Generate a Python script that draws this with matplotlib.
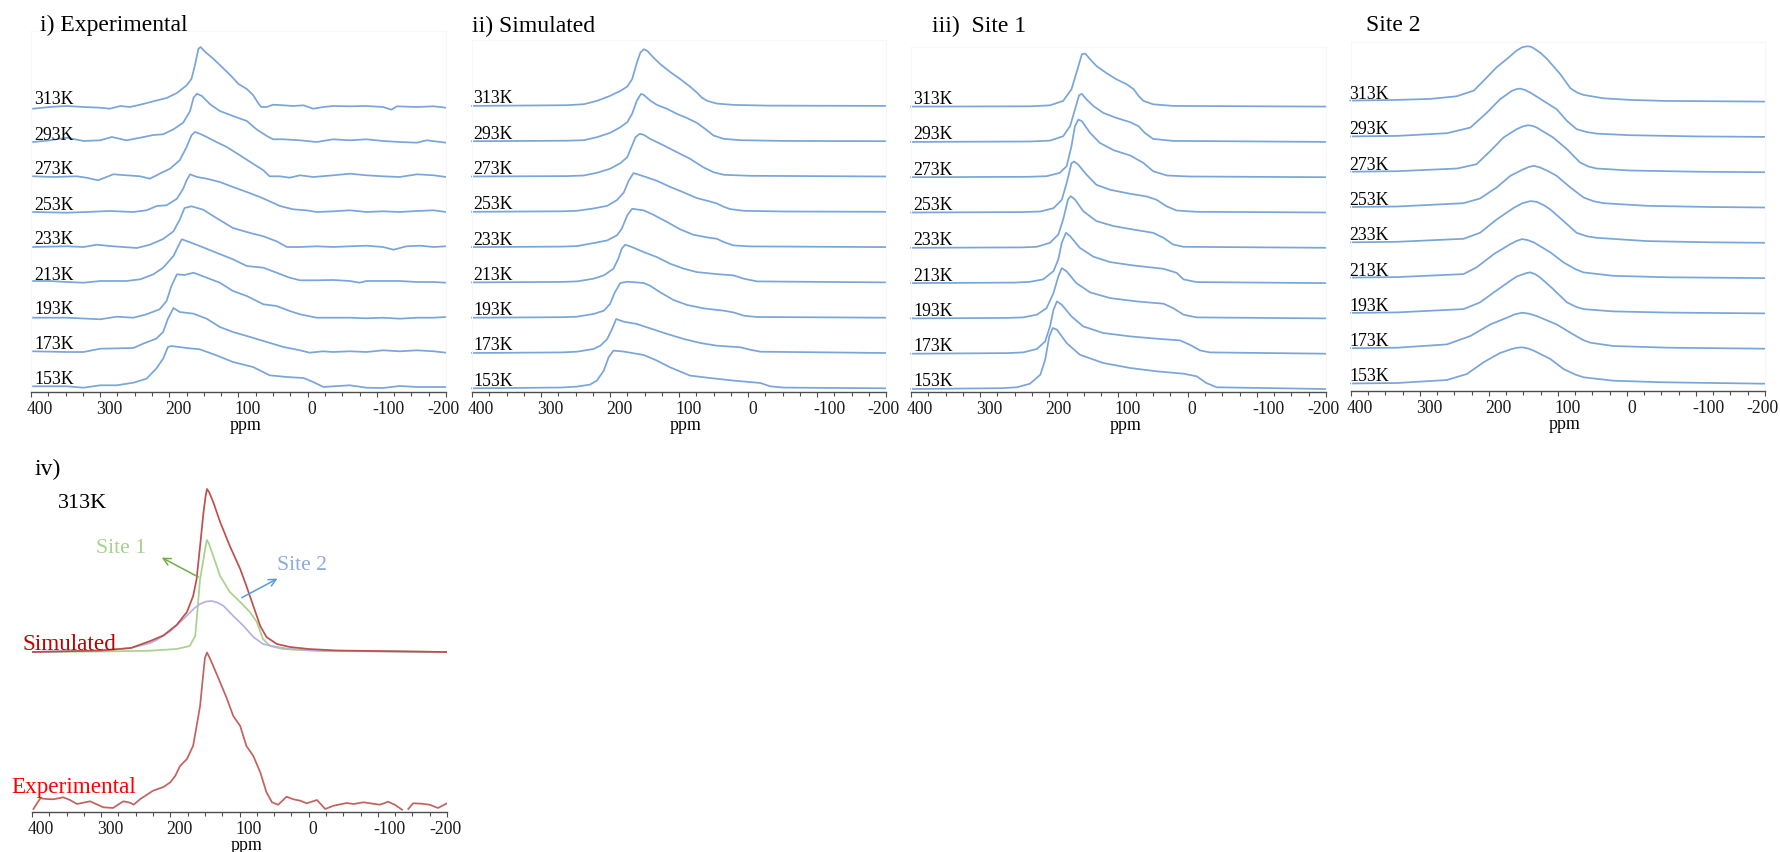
import numpy as np
import matplotlib
matplotlib.use('Agg')
import matplotlib.pyplot as plt
from matplotlib.ticker import FixedLocator, FixedFormatter, MultipleLocator
from matplotlib.transforms import ScaledTranslation

plt.rcParams['font.family'] = ['Liberation Serif', 'DejaVu Serif']

temps = ['153K', '173K', '193K', '213K', '233K', '253K', '273K', '293K', '313K']
tick_ppm = [400, 300, 200, 100, 0, -100, -200]
tick_text = ['400', '300', '200', '100', '0', '-100', '-200']

# i) experimental spectra, (ppm, intensity) pairs
exp_153 = [(397, 0.7), (348, 0.7), (324, -0.7), (300, 1.7), (276, 1.7), (252, 4.3), (233, 8.3), (219, 18.3),
           (209, 28.3), (202, 40), (197, 41), (175, 39), (156, 37.7), (132, 31.7), (108, 25), (79, 20), (55, 11.7),
           (30, 10), (6, 9), (-8, 5), (-23, 0), (-37, 0.7), (-61, 1.7), (-85, -0.7), (-109, -1), (-133, 1),
           (-158, 0), (-182, 0), (-200, 0)]
exp_173 = [(397, 0.7), (348, 0), (324, 0), (300, 3.3), (252, 4), (238, 8.3), (219, 13.3), (209, 20), (202, 33.3),
           (194, 44), (185, 40), (165, 38.3), (146, 33.3), (127, 25), (108, 20), (88, 16), (59, 10), (35, 5),
           (11, 1.7), (-3, -0.7), (-22, 0.7), (-37, 0), (-61, 0.7), (-85, 0), (-109, 1.7), (-133, 0.7),
           (-158, 1.7), (-182, 0.7), (-200, -0.7)]
exp_193 = [(397, -0.7), (348, -0.7), (300, -2.3), (276, 0.3), (252, -0.7), (233, 2.7), (214, 7.7), (204, 16),
           (197, 31), (189, 42.7), (178, 42), (165, 44.3), (146, 39.3), (127, 34.3), (108, 26), (88, 21), (64, 12.7),
           (45, 11), (26, 6), (11, 2.7), (-13, -0.7), (-37, -0.7), (-61, -0.7), (-85, -1.3), (-109, -0.7),
           (-133, -1.7), (-158, -0.7), (-182, -0.7), (-200, 0)]
exp_213 = [(397, 1), (373, 1), (348, 0), (324, -0.7), (300, 1), (262, 1), (242, 2.7), (223, 7.7), (209, 14.3),
           (194, 26), (187, 36), (182, 42.7), (175, 41), (156, 36), (132, 29.3), (108, 22.7), (88, 16), (64, 14.3),
           (45, 9.3), (26, 4.3), (11, 1.7), (-13, 1.7), (-37, 2), (-61, 1), (-75, -0.7), (-85, 1), (-109, 1),
           (-133, 1), (-158, 0), (-182, 0), (-200, -0.7)]
exp_233 = [(397, 0), (348, 0.7), (324, 0), (305, 2.3), (281, 0.7), (247, -1), (228, 2.3), (209, 8), (194, 15.7),
           (185, 27.3), (178, 39), (168, 40.7), (151, 37.3), (132, 29), (108, 19), (83, 14), (64, 10.7), (45, 5.7),
           (30, 0), (11, 0), (-13, 0.7), (-37, 0), (-61, 0.7), (-85, 1.3), (-109, 0), (-124, -2.7), (-143, 0.7),
           (-162, 1.3), (-182, 0), (-200, 0.7)]
exp_253 = [(397, 0), (348, -0.7), (320, 0), (286, 1), (252, 0), (233, 1.7), (218, 6), (204, 6.7), (189, 13.3),
           (180, 23.3), (175, 31.7), (170, 37.7), (160, 35), (146, 33.3), (127, 30), (108, 25), (88, 20), (69, 15),
           (55, 10.7), (40, 6), (21, 2.7), (2, 1.7), (-13, 0), (-37, 0.7), (-61, 1.7), (-85, 0), (-109, 0.7),
           (-133, 0), (-158, 1), (-182, 1.7), (-200, 0)]
exp_273 = [(397, 0.7), (368, 0), (334, 0.7), (320, -0.7), (303, -3.3), (281, 2.7), (262, 1.7), (242, 0.7),
           (228, -1.7), (214, 3.3), (199, 8.3), (185, 16.7), (175, 30), (168, 41.7), (163, 45), (156, 43.3),
           (146, 40), (132, 35), (117, 30), (98, 21.7), (79, 13.3), (64, 6.7), (55, 0.7), (40, 0.7), (26, -0.7),
           (11, 1.7), (-8, 0), (-37, 1.7), (-61, 3.3), (-85, 1.7), (-109, 0.7), (-133, 0), (-158, 2.7),
           (-182, 1.7), (-200, 0)]
exp_293 = [(397, 0), (373, 1.7), (348, 4.3), (324, 1), (300, 1.7), (283, 5), (262, 1.7), (242, 4.3), (223, 7),
           (209, 7.7), (194, 12.7), (180, 19.3), (170, 31), (165, 44.3), (160, 48.3), (153, 46), (141, 37.7),
           (127, 31), (108, 26), (88, 21), (74, 12.7), (59, 6), (50, 2.7), (35, 2.7), (11, 1.7), (-13, 0),
           (-37, 2.7), (-61, 1.7), (-85, 2.7), (-109, 1), (-133, 0), (-158, -0.7), (-172, 1.7), (-200, -0.7)]
exp_313 = [(397, -1.7), (373, 0), (348, 1), (324, 0), (300, -0.7), (286, -1.7), (271, 1), (257, 0), (242, 2.3),
           (223, 5.7), (204, 9), (189, 14), (175, 21.7), (168, 28), (163, 41.7), (158, 58), (155, 60), (148, 55),
           (136, 48), (124, 40), (112, 32), (100, 23), (88, 18), (79, 12), (71, 3.3), (67, 0), (59, 0), (50, 2.3),
           (35, 1.7), (21, 1), (6, 1.7), (-8, -1.7), (-23, 0), (-37, 1), (-61, 0.7), (-85, 1), (-109, 0),
           (-121, -2.7), (-129, 0.7), (-158, 0), (-182, 0.7), (-200, -0.7)]

# ii) simulated spectra
sim_153 = [(400, 0), (270, 0.8), (248, 1.7), (229, 3.7), (219, 7.7), (209, 17.7), (202, 31), (195, 37.7),
           (180, 36.7), (151, 33.3), (132, 27.7), (113, 21), (84, 12.7), (55, 10.3), (21, 7.7), (-18, 5.3),
           (-32, 2), (-52, 0.7), (-200, 0)]
sim_173 = [(400, 0), (270, 0.6), (248, 1.3), (224, 4), (214, 7.3), (204, 14), (197, 24), (191, 34), (180, 31.3),
           (161, 29), (142, 24.7), (117, 19), (93, 14), (69, 10), (45, 7.3), (11, 5.7), (-3, 3.3), (-18, 1.3),
           (-200, 0)]
sim_193 = [(400, 0), (270, 0.5), (248, 1), (224, 3.7), (209, 7), (200, 13.7), (193, 25.3), (185, 34.7), (175, 36),
           (151, 34.7), (142, 32), (127, 25.3), (108, 17.7), (88, 12.7), (64, 9.3), (35, 7), (21, 5.3), (6, 2),
           (-13, 0.7), (-200, 0)]
sim_213 = [(400, 0), (270, 0.5), (248, 1), (224, 3.7), (209, 7), (195, 13.7), (188, 23.7), (183, 33.7),
           (178, 37.7), (168, 35.3), (151, 30.3), (132, 25.3), (113, 18.7), (93, 13.7), (74, 10.3), (45, 8.3),
           (21, 7), (6, 3.7), (-13, 1), (-200, 0)]
sim_233 = [(400, 0), (270, 0.5), (248, 1), (224, 4), (204, 6.7), (190, 11.7), (183, 18.3), (175, 31.7),
           (168, 38.3), (151, 36.7), (137, 32.3), (117, 25), (98, 17.7), (79, 12.3), (59, 9.7), (45, 8.3), (35, 5),
           (21, 1.7), (-3, 0.7), (-200, 0)]
sim_253 = [(400, 0), (270, 0.5), (248, 1), (224, 3.3), (204, 6), (190, 11.7), (180, 19.3), (173, 31), (166, 38.7),
           (161, 37.7), (146, 34.3), (132, 31), (113, 25), (93, 19.3), (74, 13.7), (55, 10.3), (45, 8.3), (35, 5),
           (26, 2.7), (6, 1), (-52, 0.3), (-200, 0)]
sim_273 = [(400, 0), (262, 0.4), (238, 1), (219, 3.7), (200, 7.7), (185, 13.3), (175, 19.3), (168, 31), (163, 39.3),
           (157, 42.7), (151, 41.7), (142, 37.7), (122, 31), (103, 24.3), (84, 17.7), (65, 9.3), (50, 4.3),
           (35, 1.7), (-3, 0.7), (-200, 0)]
sim_293 = [(400, 0), (262, 0.5), (238, 1), (219, 4), (200, 8.3), (185, 14), (175, 19), (168, 27.3), (161, 40.7),
           (155, 47.3), (151, 46.3), (142, 40.7), (132, 36.3), (117, 32.3), (103, 27.3), (88, 23), (74, 18.3),
           (59, 10.7), (50, 5.7), (35, 2.3), (11, 1), (-52, 0.3), (-200, 0)]
sim_313 = [(400, 0), (262, 0.7), (238, 1.7), (219, 5), (200, 10), (185, 15), (175, 19.3), (168, 26.7), (161, 43.3),
           (156, 53.3), (151, 56.7), (146, 55), (137, 48.3), (127, 41.7), (113, 34), (98, 26.7), (84, 19.3),
           (74, 13.3), (67, 8.3), (59, 5), (45, 2.3), (21, 1), (-28, 0.3), (-200, 0)]

# iii) site 1 component
s1_153 = [(400, 0), (270, 0.8), (247, 1.7), (228, 5.3), (213, 14.3), (206, 29.3), (200, 52.7), (195, 61),
          (189, 59.3), (175, 46), (156, 34.3), (122, 26), (83, 21), (45, 17.7), (6, 15.3), (-13, 12.7), (-27, 6),
          (-42, 1.7), (-200, 0)]
s1_173 = [(400, 0), (260, 0.6), (238, 1.3), (218, 4.7), (206, 12.3), (199, 27.3), (194, 44), (189, 52.3),
          (182, 49), (168, 37.3), (151, 27.3), (122, 20.7), (83, 17.3), (45, 15), (11, 13.3), (-3, 9), (-18, 3.3),
          (-32, 1.3), (-200, 0)]
s1_193 = [(400, 0), (260, 0.5), (238, 1), (218, 3.7), (204, 10.3), (194, 25.3), (187, 42), (182, 50.3), (175, 47),
          (161, 35.3), (141, 26), (112, 20.3), (74, 17), (35, 14.7), (21, 10.3), (6, 3.7), (-13, 1), (-200, 0)]
s1_213 = [(400, 0), (250, 0.5), (228, 1.3), (209, 3.7), (194, 12), (187, 23.7), (182, 40.3), (176, 50.3),
          (170, 47), (156, 35.3), (136, 26.3), (112, 21), (79, 17.7), (35, 14.3), (16, 10.3), (6, 3.7), (-13, 1),
          (-200, 0)]
s1_233 = [(400, 0), (240, 0.4), (218, 1), (199, 5), (187, 13.3), (180, 28.3), (173, 48.3), (169, 51.7),
          (163, 48.3), (151, 36.7), (132, 26.7), (107, 21.7), (79, 18.3), (50, 15), (35, 10), (21, 3.3), (6, 1),
          (-200, 0)]
s1_253 = [(400, 0), (240, 0.4), (213, 1), (194, 4.3), (182, 12.7), (175, 29.3), (168, 49.3), (164, 51),
          (158, 47.7), (146, 37.7), (132, 27.7), (112, 22.7), (83, 18.7), (59, 16), (45, 12.7), (30, 6), (16, 2),
          (-13, 0.7), (-200, 0)]
s1_273 = [(400, 0), (230, 0.4), (204, 1), (185, 4.3), (175, 11), (168, 31), (163, 51), (158, 57.7), (153, 56),
          (141, 44.3), (127, 34.3), (107, 27), (83, 21.7), (64, 14.3), (50, 6), (30, 1.7), (-3, 0.7), (-200, 0)]
s1_293 = [(400, 0), (228, 0.4), (199, 1.3), (180, 5.7), (170, 15.7), (163, 32.3), (157, 46.7), (153, 48),
          (146, 42.3), (136, 35.7), (122, 29), (103, 24), (83, 19.7), (71, 15.7), (62, 9), (50, 3), (21, 1),
          (-200, 0)]
s1_313 = [(400, 0), (228, 0.3), (199, 1.3), (180, 5.7), (168, 17.3), (160, 35.7), (153, 52.3), (148, 53),
          (141, 47.3), (132, 40.7), (117, 33.3), (103, 27.3), (88, 22.3), (78, 17.3), (71, 10.7), (64, 5.7),
          (50, 2.3), (21, 0.7), (-200, 0)]

# site 2 component
s2_153 = [(400, 0.5), (333, 1), (261, 4), (232, 10), (208, 21.7), (184, 31), (167, 35), (160, 36.2), (152, 36.7),
          (144, 35.6), (135, 33.3), (111, 25), (92, 15), (75, 9.5), (63, 6.7), (20, 3.3), (-53, 1.7), (-200, 0.3)]
s2_173 = [(400, 0.5), (333, 1), (261, 4.3), (227, 12.7), (198, 24.3), (174, 31), (163, 34.3), (152, 36),
          (142, 35), (131, 32.7), (102, 24.3), (78, 14.3), (63, 8.5), (53, 6), (20, 2.7), (-60, 1), (-200, 0)]
s2_193 = [(400, 0.5), (333, 1), (237, 4.3), (213, 11), (193, 21), (169, 32.7), (160, 36.8), (150, 39.3),
          (145, 40.5), (140, 41), (133, 39.2), (126, 36), (107, 24.3), (87, 11), (73, 6.3), (63, 4.3), (20, 2),
          (-60, 0.8), (-200, 0)]
s2_213 = [(400, 0.5), (333, 1), (237, 4), (218, 10.7), (193, 24), (169, 34), (160, 37.2), (152, 39), (144, 38),
          (135, 35.7), (111, 25.7), (92, 15.7), (75, 9), (63, 5.7), (20, 2.3), (-60, 0.8), (-200, 0)]
s2_233 = [(400, 0.5), (333, 1), (237, 4), (213, 10), (189, 23.3), (164, 35), (152, 39.5), (140, 41.7), (131, 41),
          (121, 37.8), (111, 33.3), (92, 21.7), (73, 10), (58, 6.5), (44, 5), (-29, 1.7), (-120, 0.5), (-200, 0)]
s2_253 = [(400, 0.5), (333, 1), (237, 4.3), (213, 9), (189, 20), (169, 31.7), (150, 38.3), (142, 40.6),
          (135, 41.7), (126, 40), (114, 36.3), (102, 31.7), (82, 20), (63, 10), (48, 6.2), (34, 4.3), (-29, 1.7),
          (-120, 0.5), (-200, 0)]
s2_273 = [(400, 0.5), (333, 1), (246, 3.7), (218, 8), (198, 21.3), (179, 34.7), (160, 43), (150, 46), (143, 47),
          (137, 46.3), (131, 44.7), (107, 34.7), (87, 23), (68, 9.7), (56, 5.7), (44, 3.7), (-4, 1.7), (-100, 0.5),
          (-200, 0)]
s2_293 = [(400, 0.5), (333, 1), (261, 3.7), (227, 9.3), (203, 24.3), (184, 37.7), (167, 46), (160, 47.8),
          (155, 48.3), (148, 47), (140, 44.3), (121, 36), (102, 27.7), (87, 16), (73, 7.7), (58, 4.8), (44, 3.3),
          (-4, 1.7), (-100, 0.5), (-200, 0)]
s2_313 = [(401, 1), (333, 1.7), (285, 2.7), (247, 5.3), (222, 11), (203, 24.3), (189, 34.3), (174, 42.7),
          (160, 51), (152, 54.3), (145, 55.3), (140, 55), (135, 53.3), (125, 48.5), (116, 42.7), (97, 27.7),
          (82, 13.3), (72, 9), (63, 6.7), (34, 3.3), (-4, 1.7), (-53, 0.7), (-200, 0)]

# iv) 313K deconvolution
iv_sim = [(400, 0), (300, 1.5), (257, 4), (229, 11), (210, 16.5), (191, 27), (176, 40), (167, 56), (162, 73),
          (157, 106), (152, 140), (149, 156), (147, 163), (144, 160), (138, 150), (128, 130), (114, 106), (99, 83),
          (90, 66), (80, 46), (70, 26), (61, 15), (46, 8), (27, 5), (0, 3), (-40, 1.5), (-200, 0)]
iv_site1 = [(400, 0), (300, 0.5), (229, 1.3), (191, 3), (172, 6), (164, 16), (161, 40), (157, 73), (152, 93),
            (149, 106), (147, 112), (144, 108), (138, 96), (128, 76), (114, 60), (99, 50), (85, 40), (75, 30),
            (66, 13), (56, 6), (37, 3), (0, 1.5), (-200, 0)]
iv_site2 = [(400, 0), (300, 1.5), (257, 4), (229, 9), (220, 12), (200, 21), (181, 33), (165, 44), (157, 48),
            (148, 50.5), (140, 51), (132, 49.5), (123, 46), (109, 36), (94, 26), (80, 15), (66, 8), (46, 5),
            (27, 3), (-20, 1), (-200, 0)]
iv_exp = [(398, -3), (388, 7.7), (379, 7), (369, 6.7), (355, 8.7), (345, 6), (335, 2), (316, 4.7), (297, -1.3),
          (283, -2), (268, 4.7), (258, 3.3), (253, 1.3), (244, 6.7), (225, 15.3), (210, 19), (200, 23.7),
          (193, 30), (186, 40), (176, 47), (167, 60.3), (162, 80), (157, 100), (153, 128), (150, 148),
          (147, 153.5), (143, 148), (138, 140), (128, 123.7), (118, 107), (109, 90), (99, 80), (90, 60), (80, 50),
          (70, 33.7), (61, 13.7), (53, 3.7), (44, 1.3), (32, 9.3), (22, 6.7), (12, 5.3), (3, 2.7), (-3, 4),
          (-12, 6), (-24, -3), (-36, 0.3), (-55, 3), (-65, 2), (-79, 3.7), (-89, 2.7), (-103, 1.3), (-115, 4.3),
          (-125, 1), (-135, -3.7), (-139, np.nan), (-144, -3), (-151, 2.7), (-163, 2.3), (-175, 1.3),
          (-187, -2), (-200, 2.7)]

exp_traces = [exp_153, exp_173, exp_193, exp_213, exp_233, exp_253, exp_273, exp_293, exp_313]
sim_traces = [sim_153, sim_173, sim_193, sim_213, sim_233, sim_253, sim_273, sim_293, sim_313]
s1_traces = [s1_153, s1_173, s1_193, s1_213, s1_233, s1_253, s1_273, s1_293, s1_313]
s2_traces = [s2_153, s2_173, s2_193, s2_213, s2_233, s2_253, s2_273, s2_293, s2_313]

W, H = 1781, 853
fig = plt.figure(figsize=(W / 100, H / 100), dpi=100)
fig.patch.set_facecolor('white')
BLUE = '#78a5da'
AXC = '#4d4d4d'


def px(x, y):
    return x / W, 1 - y / H


def add_panel(left, right, bottom, top, box=True):
    # y data units are screen pixels above the ppm axis
    ax = fig.add_axes([left / W, 1 - bottom / H, (right - left) / W, (bottom - top) / H])
    ax.set_xlim(400, -200)
    ax.set_ylim(0, bottom - top)
    ax.set_yticks([])
    for side in ('left', 'right', 'top'):
        ax.spines[side].set_color('#f7f7f7')
        ax.spines[side].set_linewidth(0.8)
        ax.spines[side].set_visible(box)
    ax.spines['bottom'].set_color(AXC)
    ax.spines['bottom'].set_linewidth(1.0)
    ax.xaxis.set_major_locator(FixedLocator(tick_ppm))
    ax.xaxis.set_major_formatter(FixedFormatter(tick_text))
    ax.xaxis.set_minor_locator(MultipleLocator(25))
    ax.tick_params(axis='x', which='major', direction='out', length=3.4, width=0.8, color=AXC,
                   pad=2.2, labelsize=12.7, labelcolor='#1a1a1a')
    ax.tick_params(axis='x', which='minor', direction='out', length=2.6, width=0.8, color=AXC)
    for tick, t in zip(ax.xaxis.get_major_ticks(), tick_text):
        if t == '0':
            ha, dx = 'left', 0
        elif t == '-200':
            ha, dx = 'center', -2
        else:
            ha, dx = 'left', -4
        tick.label1.set_horizontalalignment(ha)
        tick.label1.set_transform(tick.label1.get_transform() +
                                  ScaledTranslation(dx / 100, 0, fig.dpi_scale_trans))
    ax.annotate('ppm', xy=(0.5, 0), xycoords='axes fraction', xytext=(7, -37),
                textcoords='offset pixels', ha='center', va='baseline', fontsize=12.8)
    return ax


def draw_stack(ax, traces, base, step, label_ppm):
    for k, (trace, name) in enumerate(zip(traces, temps)):
        ppm = [p for p, _ in trace]
        val = [base + k * step + v for _, v in trace]
        ax.plot(ppm, val, color=BLUE, lw=1.25, clip_on=False, solid_joinstyle='round')
        ax.text(label_ppm, base + k * step + 3.5, name, fontsize=12.8, ha='left', va='baseline')


ax1 = add_panel(31, 446, 393, 32)
draw_stack(ax1, exp_traces, 5, 35, 395)
ax2 = add_panel(472, 886, 393, 41)
draw_stack(ax2, sim_traces, 3.7, 35.3, 398)
ax3 = add_panel(911, 1326, 393, 48)
draw_stack(ax3, s1_traces, 3, 35.3, 397)
ax4 = add_panel(1351, 1765, 392, 43)
draw_stack(ax4, s2_traces, 7, 35.3, 403)

title_kw = dict(fontsize=17, va='baseline', ha='left')
fig.text(*px(40, 31), 'i) Experimental', **title_kw)
fig.text(*px(472, 32), 'ii) Simulated', **title_kw)
fig.text(*px(932, 32), 'iii)  Site 1', **title_kw)
fig.text(*px(1366, 31), 'Site 2', **title_kw)
fig.text(*px(35, 475), 'iv)', **title_kw)

# iv) simulated fit with its two sites above the 313K experimental spectrum
ax5 = add_panel(32, 447, 813, 470, box=False)
sim_base, exp_base = 160, 6
for trace, col in ((iv_site1, '#a9d18e'), (iv_site2, '#b6b1e2'), (iv_sim, '#bf4f4c')):
    ax5.plot([p for p, _ in trace], [sim_base + v for _, v in trace], color=col, lw=1.25,
             solid_joinstyle='round')
ax5.plot([p for p, _ in iv_exp], [exp_base + v for _, v in iv_exp], color='#c2625f', lw=1.25,
         solid_joinstyle='round')

ax5.annotate('', xy=(216, 255.7), xytext=(156, 233.7),
             arrowprops=dict(arrowstyle='->', color='#70ad47', lw=1.1, mutation_scale=13))
ax5.annotate('', xy=(41.5, 234.7), xytext=(100.3, 213),
             arrowprops=dict(arrowstyle='->', color='#5b9bd5', lw=1.1, mutation_scale=13))

fig.text(*px(58, 508), '313K', fontsize=16, va='baseline', ha='left')
fig.text(*px(96, 553), 'Site 1', fontsize=15.6, va='baseline', ha='left', color='#a9d18e')
fig.text(*px(277, 570), 'Site 2', fontsize=15.6, va='baseline', ha='left', color='#8faadc')
fig.text(*px(23, 650), 'Simulated', fontsize=16.7, va='baseline', ha='left', color='#c00000')
fig.text(*px(11, 793), 'Experimental', fontsize=16.7, va='baseline', ha='left', color='#ff0000')

fig.savefig('out.png', dpi=100, facecolor='white')
